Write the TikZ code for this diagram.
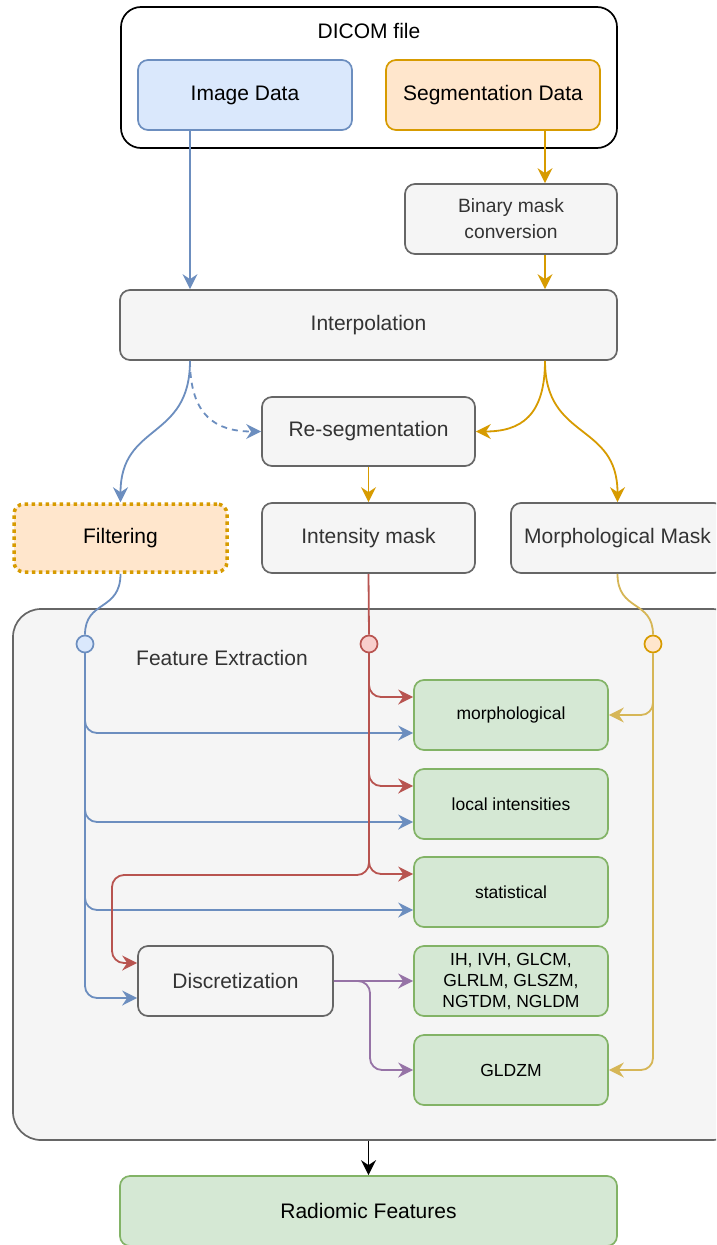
\documentclass[tikz,border=0pt]{standalone}
\usepackage{fontspec}
\setmainfont{Liberation Sans}
\usetikzlibrary{arrows.meta,calc}
\definecolor{blueF}{HTML}{DAE8FC}
\definecolor{blueS}{HTML}{6C8EBF}
\definecolor{oranF}{HTML}{FFE6CC}
\definecolor{oranS}{HTML}{D79B00}
\definecolor{grayF}{HTML}{F5F5F5}
\definecolor{grayS}{HTML}{666666}
\definecolor{grayT}{HTML}{333333}
\definecolor{greenF}{HTML}{D5E8D4}
\definecolor{greenS}{HTML}{82B366}
\definecolor{redF}{HTML}{F8CECC}
\definecolor{redS}{HTML}{B85450}
\definecolor{purpS}{HTML}{9673A6}
\definecolor{yelS}{HTML}{D6B656}
\newcommand{\bigtext}{\fontsize{21}{25}\selectfont}
\newcommand{\smalltext}{\fontsize{17.5}{21}\selectfont}
\newcommand{\midtext}{\fontsize{19.25}{26}\selectfont}
\tikzset{
  box/.style={rectangle, rounded corners=10pt, line width=1.7pt, align=center,
    inner sep=0pt, font=\bigtext, text=black},
  graybox/.style={box, fill=grayF, draw=grayS, text=grayT},
  greenbox/.style={box, fill=greenF, draw=greenS, minimum width=194pt,
    minimum height=70pt, font=\smalltext},
  junction/.style={circle, line width=1.7pt, minimum size=17pt, inner sep=0pt},
  conn/.style={line width=1.8pt, -{Stealth[length=15pt,width=15pt,inset=5pt]}},
  bl/.style={conn, draw=blueS},
  og/.style={conn, draw=oranS},
  rd/.style={conn, draw=redS},
  yl/.style={conn, draw=yelS},
  pp/.style={conn, draw=purpS},
  bk/.style={conn, draw=black},
}
\begin{document}
\begin{tikzpicture}[x=1pt, y=-1pt]
\clip (0,0) rectangle (716,1245);
\fill[white] (0,0) rectangle (716,1245);

% DICOM container and its two data blocks
\node[box, draw=black, fill=white, rounded corners=20pt, minimum width=496pt,
  minimum height=141pt] (dicom) at (369,77.5) {};
\node[font=\bigtext, text=black] (dicomlbl) at (369,31) {DICOM file};
\node[box, fill=blueF, draw=blueS, minimum width=214pt, minimum height=70pt]
  (img) at (245,95) {Image Data};
\node[box, fill=oranF, draw=oranS, minimum width=214pt, minimum height=70pt]
  (seg) at (493,95) {Segmentation Data};

% preprocessing chain
\node[graybox, minimum width=212pt, minimum height=70pt, font=\midtext]
  (bin) at (511,219) {Binary mask\\conversion};
\node[graybox, minimum width=497pt, minimum height=70pt]
  (interp) at (368.5,325) {Interpolation};
\node[graybox, minimum width=213pt, minimum height=69pt]
  (reseg) at (368.5,431.5) {Re-segmentation};
\node[box, fill=oranF, draw=oranS, line width=3.5pt, dash pattern=on 3.5pt off 3.5pt,
  minimum width=213pt, minimum height=68pt] (filt) at (120.5,538) {Filtering};
\node[graybox, minimum width=213pt, minimum height=70pt]
  (intm) at (368.5,538) {Intensity mask};
\node[graybox, minimum width=213pt, minimum height=70pt]
  (morphm) at (617.5,538) {Morphological Mask};

% feature extraction container
\node[graybox, rounded corners=28pt, minimum width=727pt, minimum height=531pt]
  (fe) at (376.5,874.5) {};
\node[font=\bigtext, text=grayT] (felbl) at (222,658) {Feature Extraction};

\node[junction, fill=blueF, draw=blueS] (bc) at (85,644) {};
\node[junction, fill=redF, draw=redS] (rc) at (369,644) {};
\node[junction, fill=oranF, draw=oranS] (oc) at (653,644) {};

\node[greenbox] (gm) at (511,715) {morphological};
\node[greenbox] (gl) at (511,804) {local intensities};
\node[greenbox] (gs) at (511,892) {statistical};
\node[greenbox] (gi) at (511,981) {IH, IVH, GLCM,\\GLRLM, GLSZM,\\NGTDM, NGLDM};
\node[greenbox] (gz) at (511,1070) {GLDZM};
\node[graybox, minimum width=195pt, minimum height=70pt]
  (disc) at (235.5,981) {Discretization};

\node[box, fill=greenF, draw=greenS, minimum width=497pt, minimum height=70pt]
  (rad) at (368.5,1211) {Radiomic Features};

% helper columns and bends
\coordinate (xb) at (190,0);
\coordinate (xo) at (545,0);
\coordinate (rk) at (112,875);
\coordinate (pk) at (370,1070);

% DICOM -> interpolation
\draw[bl] (img.south -| xb) -- (interp.north -| xb);
\draw[og] (seg.south -| xo) -- (bin.north -| xo);
\draw[og] (bin.south -| xo) -- (interp.north -| xo);

% interpolation outputs
\draw[bl] (interp.south -| xb) .. controls +(0,80) and +(0,-80) .. (filt.north);
\draw[bl, dashed, dash pattern=on 6pt off 5pt] (interp.south -| xb)
  .. controls +(0,55) and +(-45,0) .. (reseg.west);
\draw[og] (interp.south -| xo) .. controls +(0,55) and +(45,0) .. (reseg.east);
\draw[og] (interp.south -| xo) .. controls +(0,80) and +(0,-80) .. (morphm.north);
\draw[og] (reseg.south) -- (intm.north);

% into feature extraction
\draw[line width=1.8pt, blueS] (filt.south) .. controls +(0,38) and +(0,-35) .. (bc.north);
\draw[line width=1.8pt, redS] (intm.south) -- (rc.north);
\draw[line width=1.8pt, yelS] (morphm.south) .. controls +(0,38) and +(0,-35) .. (oc.north);

% filtered image branches
\draw[bl, rounded corners=12pt] (bc.south) |- ($(gm.west)+(0,18)$);
\draw[bl, rounded corners=12pt] (bc.south) |- ($(gl.west)+(0,18)$);
\draw[bl, rounded corners=12pt] (bc.south) |- ($(gs.west)+(0,18)$);
\draw[bl, rounded corners=12pt] (bc.south) |- ($(disc.west)+(0,17)$);

% intensity mask branches
\draw[rd, rounded corners=12pt] (rc.south) |- ($(gm.west)+(0,-18)$);
\draw[rd, rounded corners=12pt] (rc.south) |- ($(gl.west)+(0,-18)$);
\draw[rd, rounded corners=12pt] (rc.south) |- ($(gs.west)+(0,-18)$);
\draw[rd, rounded corners=12pt] (rc.south) |- (rk) |- ($(disc.west)+(0,-18)$);

% morphological mask branches
\draw[yl, rounded corners=12pt] (oc.south) |- (gm.east);
\draw[yl, rounded corners=12pt] (oc.south) |- (gz.east);

% discretised image branches
\draw[pp] (disc.east) -- (gi.west);
\draw[pp, rounded corners=12pt] (disc.east) -| (pk) -- (gz.west);

% result
\draw[bk] (fe.south -| rad.north) -- (rad.north);
\end{tikzpicture}
\end{document}
